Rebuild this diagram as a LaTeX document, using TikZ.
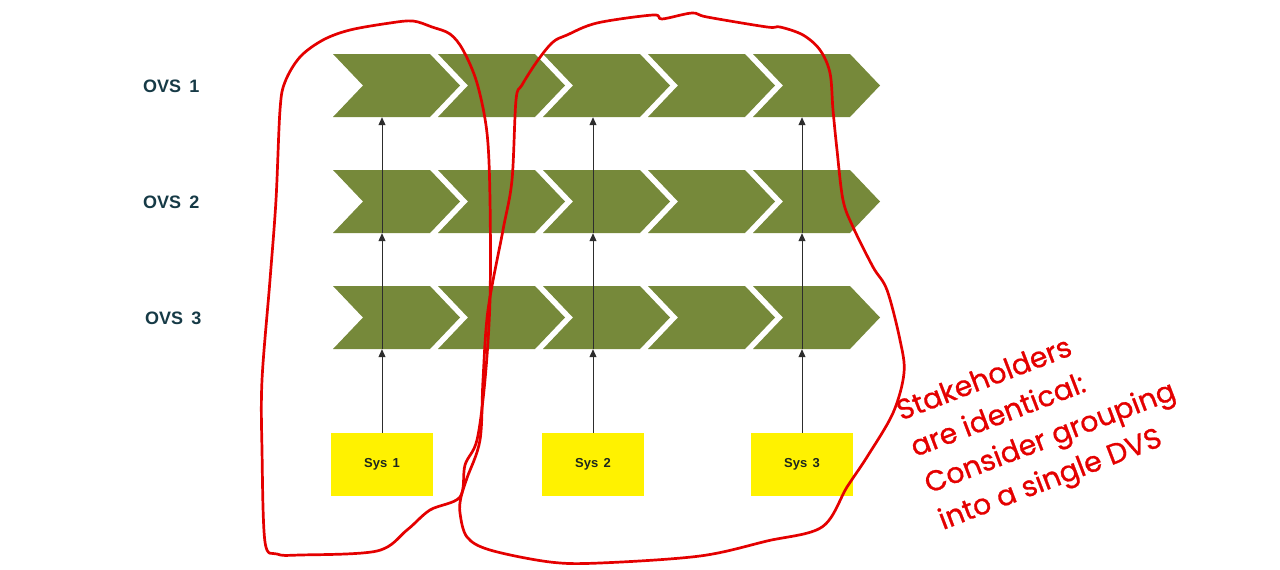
\documentclass[tikz,border=0pt]{standalone}
\usepackage{fontspec}
\setmainfont{Liberation Sans}
\newfontfamily\handfont{Poppins}[FakeBold=0.9]
\usetikzlibrary{arrows.meta}
\definecolor{chevgreen}{RGB}{118,137,58}
\definecolor{sysyellow}{RGB}{255,242,0}
\definecolor{ovsteal}{RGB}{22,58,70}
\definecolor{systext}{RGB}{30,40,30}
\definecolor{arrowgray}{RGB}{45,45,45}
\definecolor{penred}{RGB}{228,0,0}
\tikzset{
  chev/.style={fill=chevgreen},
  rowbox/.style={inner sep=0pt, minimum width=547pt, minimum height=63pt},
  sysbox/.style={fill=sysyellow, inner sep=0pt, minimum width=102pt, minimum height=63pt,
    font=\fontsize{13}{15}\selectfont\bfseries, text=systext},
  ovslabel/.style={anchor=west, font=\fontsize{18}{20}\selectfont\bfseries, text=ovsteal, inner sep=0pt},
  arr/.style={draw=arrowgray, line width=0.9pt, -{Triangle[length=8pt,width=7pt]}},
  loop/.style={draw=penred, line width=2.7pt, line join=round, line cap=round},
  note/.style={text=penred, font=\handfont\fontsize{28.5}{39}\selectfont, align=left, inner sep=0pt}
}
\begin{document}
\begin{tikzpicture}[x=1pt,y=-1pt]
\useasboundingbox (0,0) rectangle (1280,570);
% chevron rows
\foreach \yc/\n in {85.5/1,201.5/2,317.5/3}{
  \node[rowbox] (row\n) at (606.5,\yc) {};
  \foreach \k in {0,...,4}{
    \fill[chev] ({333+105*\k},\yc-31.5) -- ++(97,0) -- ++(30,31.5) -- ++(-30,31.5) -- ++(-97,0) -- ++(30,-31.5) -- cycle;
  }
}
% labels
\node[ovslabel] (ovs1) at (143,86) {OVS\hspace{0.45em}1};
\node[ovslabel] (ovs2) at (143,202) {OVS\hspace{0.45em}2};
\node[ovslabel] (ovs3) at (145,318) {OVS\hspace{0.45em}3};
% systems
\node[sysbox] (s1) at (382,464.5) {Sys\hspace{0.4em}1};
\node[sysbox] (s2) at (593,464.5) {Sys\hspace{0.4em}2};
\node[sysbox] (s3) at (802,464.5) {Sys\hspace{0.4em}3};
% arrows (lines run through the chevrons)
\foreach \s in {s1,s2,s3}{
  \draw[arr] (\s.north) -- (\s.north |- row3.south);
  \draw[arr] (\s.north |- row3.south) -- (\s.north |- row2.south);
  \draw[arr] (\s.north |- row2.south) -- (\s.north |- row1.south);
}
% left loop
\draw[loop] plot[smooth cycle, tension=0.55] coordinates {
  (300,57) (323,40) (350,30) (390,23) (413,21) (432,27) (450,34) (463,50) (477,83)
  (487,133) (490,200) (490,300) (485,380) (477,440) (465,465) (460,497)
  (430,510) (407,530) (377,551) (300,555) (277,554) (265,542) (262,450)
  (262,380) (270,280) (276,200) (280,110) (285,82)};
% right loop
\draw[loop] plot[smooth cycle, tension=0.55] coordinates {
  (553,42) (567,35) (597,23) (653,15) (662,19) (692,13) (707,17) (767,27)
  (780,27) (803,35) (820,50) (830,73) (833,110) (837,150) (843,200) (853,227)
  (873,267) (887,290) (900,340) (904,373) (893,413) (867,457) (847,487)
  (822,527) (767,541) (700,556) (600,563) (550,562) (490,550) (467,537)
  (460,513) (461,497) (467,478) (480,440) (483,380) (488,310) (503,230)
  (512,180) (516,100) (522,85) (538,60)};
% annotation
\node[note, rotate=21, anchor=base west] (notetext) at (943,530)
  {Stakeholders\\are identical:\\Consider grouping\\into a single DVS};
\end{tikzpicture}
\end{document}
